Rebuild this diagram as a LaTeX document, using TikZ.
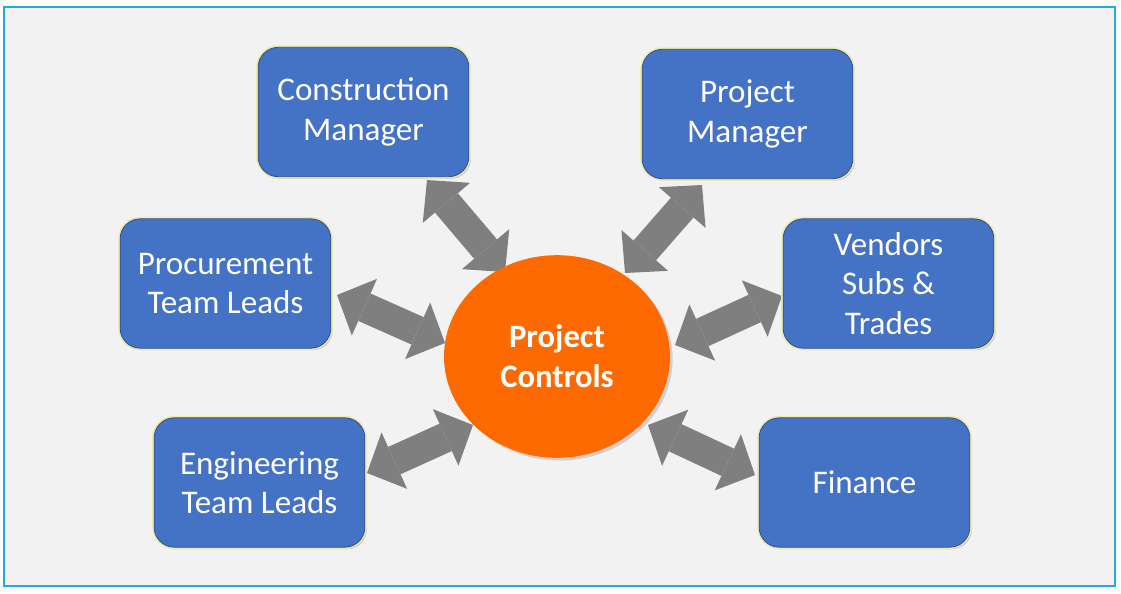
\documentclass[tikz,border=0pt]{standalone}
\usepackage{fontspec}
\setmainfont{Carlito}
\usepackage{tikz}
\usepackage{xcolor}
\usetikzlibrary{shapes.geometric,arrows.meta,shadows}
\definecolor{boxblue}{HTML}{4472C4}
\definecolor{boxrim}{HTML}{2F528F}
\definecolor{glowyellow}{HTML}{EDE9A8}
\definecolor{hubred}{HTML}{FF6A00}
\definecolor{arrowgray}{HTML}{7F7F7F}
\definecolor{paper}{HTML}{F2F2F2}
\definecolor{framecyan}{HTML}{1EADE0}

\begin{document}
\begin{tikzpicture}[x=0.75pt, y=-0.75pt,
    role/.style={rectangle, rounded corners=15pt, minimum width=158pt, minimum height=97pt,
      drop shadow={shadow xshift=1.5pt, shadow yshift=-1.5pt, opacity=0.45},
      preaction={draw=glowyellow, line width=3pt},
      fill=boxblue, draw=boxrim, line width=0.6pt, text=white, align=center,
      font=\fontsize{24.8}{29.5}\selectfont},
    hub/.style={ellipse, minimum width=169.5pt, minimum height=152pt, fill=hubred,
      drop shadow={shadow xshift=2pt, shadow yshift=-2pt, opacity=0.3},
      text=white, align=center, font=\bfseries\fontsize{24.5}{30}\selectfont},
    link/.style={draw=arrowgray, line width=22.5pt,
      {Triangle[width=46.5pt, length=22.5pt, line width=0pt]}-{Triangle[width=46.5pt, length=22.5pt, line width=0pt]}}]
    \useasboundingbox (0,0) rectangle (1121,593);
    \draw[framecyan, line width=1.5pt, fill=paper] (4,7) rectangle (1115,586);

    \coordinate (construction a) at (427,180);
    \coordinate (construction b) at (505,272);
    \coordinate (project a) at (702,185);
    \coordinate (project b) at (625,273);
    \coordinate (procurement a) at (337,295);
    \coordinate (procurement b) at (445,343);
    \coordinate (vendors a) at (782,296);
    \coordinate (vendors b) at (675,345);
    \coordinate (engineering a) at (367,473);
    \coordinate (engineering b) at (473,425);
    \coordinate (finance a) at (755,475);
    \coordinate (finance b) at (648,425);

    \draw[link] (construction a) -- (construction b);
    \draw[link] (project a) -- (project b);
    \draw[link] (procurement a) -- (procurement b);
    \draw[link] (vendors a) -- (vendors b);
    \draw[link] (engineering a) -- (engineering b);
    \draw[link] (finance a) -- (finance b);

    \node[hub] (controls) at (557,356.5) {Project\\Controls};
    \node[role] (construction) at (363.5,112) {Construction\\Manager};
    \node[role] (project) at (747.5,114) {Project\\Manager};
    \node[role] (procurement) at (225.5,283.5) {Procurement\\Team Leads};
    \node[role] (vendors) at (888.5,283.5) {Vendors\\Subs \&\\Trades};
    \node[role] (engineering) at (259.5,482.5) {Engineering\\Team Leads};
    \node[role] (finance) at (864.5,482.5) {Finance};
  \end{tikzpicture}
\end{document}
